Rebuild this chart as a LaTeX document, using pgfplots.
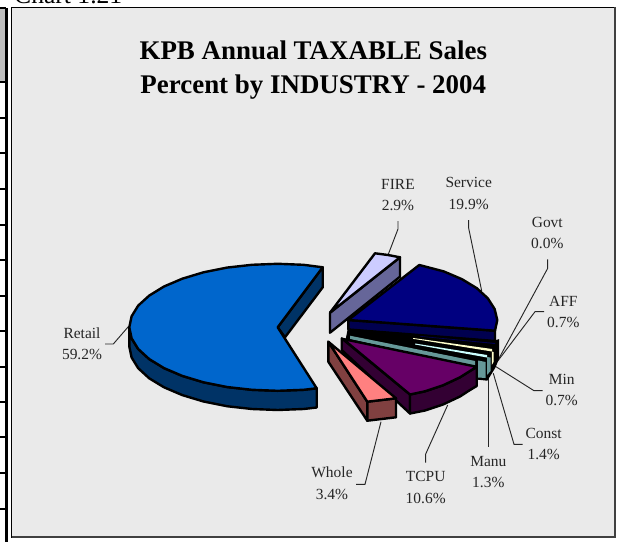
\documentclass[border=0pt]{standalone}
\usepackage{fontspec}
\setmainfont{Liberation Serif}
\usepackage{pgfplots}
\pgfplotsset{compat=1.18}

\definecolor{panel}{HTML}{EAEAEA}
\definecolor{retailT}{HTML}{0066CC}
\definecolor{retailS}{HTML}{003366}
\definecolor{fireT}{HTML}{CCCCFF}
\definecolor{fireS}{HTML}{666699}
\definecolor{servT}{HTML}{000080}
\definecolor{servS}{HTML}{000050}
\definecolor{teal}{HTML}{669999}
\definecolor{paley}{HTML}{FFFFCC}
\definecolor{palec}{HTML}{CCFFFF}
\definecolor{tcpuT}{HTML}{660066}
\definecolor{tcpuS}{HTML}{330033}
\definecolor{wholeT}{HTML}{FF8080}
\definecolor{wholeS}{HTML}{804040}

\pgfplotsset{
  face/.style={fill=#1,draw=black,line width=1.8pt,line join=round,line cap=round},
  lead/.style={draw=black!85,line width=0.7pt},
}
% label pair: x, baseline y, name, percent
\newcommand{\lab}[4]{%
  \node[anchor=base,font=\fontsize{11.6}{12}\selectfont,text=black!85] at (axis cs:#1,#2) {#3};
  \node[anchor=base,font=\fontsize{11.6}{12}\selectfont,text=black!85] at (axis cs:#1,#2+21.3) {#4};
}

\begin{document}
\begin{tikzpicture}
\useasboundingbox (0,0) rectangle (463.5pt,406.5pt);
\clip (0,0) rectangle (463.5pt,406.5pt);
\begin{axis}[
    at={(0,0)},anchor=south west,
    scale only axis,width=463.5pt,height=406.5pt,
    xmin=0,xmax=618,ymin=0,ymax=542,y dir=reverse,
    hide axis,clip=false,
  ]
  % table fragment on the left
  \addplot[fill=black!25,draw=none] coordinates {(0,9) (5.5,9) (5.5,81) (0,81) (0,9)};
  \addplot[draw=black,line width=1.9pt] coordinates {(6.7,8) (6.7,542)};
  \addplot[draw=black,line width=1.5pt] coordinates {(0,8.5) (6,8.5)};
  \addplot[draw=black,line width=1.5pt] coordinates {(0,82) (6,82)};
  \addplot[draw=black,line width=1.5pt] coordinates {(0,118) (6,118)};
  \addplot[draw=black,line width=1.5pt] coordinates {(0,153) (6,153)};
  \addplot[draw=black,line width=1.5pt] coordinates {(0,189) (6,189)};
  \addplot[draw=black,line width=1.5pt] coordinates {(0,225) (6,225)};
  \addplot[draw=black,line width=1.5pt] coordinates {(0,260) (6,260)};
  \addplot[draw=black,line width=1.5pt] coordinates {(0,296) (6,296)};
  \addplot[draw=black,line width=1.5pt] coordinates {(0,331) (6,331)};
  \addplot[draw=black,line width=1.5pt] coordinates {(0,367) (6,367)};
  \addplot[draw=black,line width=1.5pt] coordinates {(0,402) (6,402)};
  \addplot[draw=black,line width=1.5pt] coordinates {(0,437) (6,437)};
  \addplot[draw=black,line width=1.5pt] coordinates {(0,473) (6,473)};
  \addplot[draw=black,line width=1.5pt] coordinates {(0,509) (6,509)};

  % chart panel
  \addplot[fill=panel,draw=black,line width=0.75pt] coordinates {(11.5,7.5) (615,7.5) (615,537) (11.5,537) (11.5,7.5)};
  \addplot[draw=black!75,line width=1.5pt] coordinates {(615,7.5) (615,537) (11.5,537)};

  % leader lines
  \addplot[lead] coordinates {(105,344) (113.3,344) (128.3,326.7)};
  \addplot[lead] coordinates {(398,221) (398,229) (388.3,254.3)};
  \addplot[lead] coordinates {(468.7,220) (468.7,228.3) (481.7,291)};
  \addplot[lead] coordinates {(547.7,259.3) (547.7,268.3) (497,362)};
  \addplot[lead] coordinates {(544,311.7) (535,311.7) (497,362)};
  \addplot[lead] coordinates {(542.7,390.7) (534,390.7) (496,366.7)};
  \addplot[lead] coordinates {(522.7,444.3) (514,444.3) (493.3,373.3)};
  \addplot[lead] coordinates {(488.3,446.7) (488.3,378)};
  \addplot[lead] coordinates {(425.7,462.7) (425.7,454) (447.7,405)};
  \addplot[lead] coordinates {(356,484.3) (365,484.3) (381,421.7)};

  % Retail
  \addplot[face=retailS] coordinates {(277.7,327.3) (322.7,267.3) (322.7,287.3) (285,337.3) (277.7,327.3)};
  \addplot[face=retailS] coordinates {(129.3,327.3) (131.6,338.3) (138.2,349) (149.2,359.05) (164,368.1) (182.3,375.9) (203.5,382.3) (226.9,387) (251.9,389.8) (277.7,390.8) (303.5,389.8) (316.7,388.3) (316.7,407.5) (303.5,409) (277.7,410) (251.9,409) (226.9,406.2) (203.5,401.5) (182.3,395.1) (164,387.3) (149.2,378.3) (138.2,368.2) (131.6,357.5) (129.3,346.5) (129.3,327.3)};
  \addplot[face=retailT] coordinates {(277.7,327.3) (322.7,267.3) (303.5,264.8) (277.7,263.8) (251.9,264.8) (226.9,267.6) (203.5,272.3) (182.3,278.7) (164,286.5) (149.2,295.6) (138.2,305.6) (131.6,316.3) (129.3,327.3) (131.6,338.3) (138.2,349) (149.2,359.05) (164,368.1) (182.3,375.9) (203.5,382.3) (226.9,387) (251.9,389.8) (277.7,390.8) (303.5,389.8) (316.7,388.3) (277.7,327.3)};

  % FIRE
  \addplot[face=fireS] coordinates {(330,312.7) (400,257.3) (400,276.7) (330,332.7) (330,312.7)};
  \addplot[face=fireT] coordinates {(330,312.7) (375,253.3) (388,255) (400,257.3) (330,312.7)};

  % Service
  \addplot[face=servS] coordinates {(348.3,320) (495,330.7) (495,341) (348.3,329.5) (348.3,320)};
  \addplot[face=servT] coordinates {(348.3,320) (419.3,265) (443.7,271.4) (462,279.2) (476.8,288.2) (487.8,298.3) (494.6,309) (497.3,320) (495,330.7) (348.3,320)};

  % black mass of the thin slices
  \addplot[fill=black,draw=black,line width=1pt] coordinates {(348.3,329.5) (495,341) (498.5,340) (498.5,358) (495,367) (487,380) (477.7,379) (476,369) (346,341) (348.3,329.5)};
  \addplot[fill=servS,draw=none] coordinates {(420,336) (495,343) (495,344) (420,336.6) (420,336)};
  \addplot[fill=paley,draw=none] coordinates {(413,338) (492,349) (492,351.5) (413,338.8) (413,338)};
  \addplot[fill=palec,draw=none] coordinates {(415,343.5) (487,355) (487,357.5) (415,344.5) (415,343.5)};
  \addplot[fill=teal,draw=none] coordinates {(350,335.7) (475,361) (475,367) (350,339) (350,335.7)};
  \addplot[fill=teal,draw=none] coordinates {(478,360.5) (485.7,362) (485.7,378) (478,377.5) (478,360.5)};
  \addplot[fill=teal,draw=none] coordinates {(487,357) (490.5,357.5) (490.5,371) (487,375) (487,357)};
  \addplot[fill=paley,draw=none] coordinates {(491.8,351.5) (493.5,352) (493.5,362) (491.8,365) (491.8,351.5)};

  % TCPU
  \addplot[face=tcpuS] coordinates {(341.7,338.3) (410,394.5) (410,413.5) (341.7,350) (341.7,338.3)};
  \addplot[face=tcpuS] coordinates {(410,394.5) (425,391.3) (443,385.3) (460,377.3) (470,371) (476.7,366.8) (476.7,386) (470,390) (460,396.5) (443,404.5) (425,410.5) (410,413.5) (410,394.5)};
  \addplot[face=tcpuT] coordinates {(343,339) (476.7,366.8) (470,371) (460,377.3) (443,385.3) (425,391.3) (410,394.5) (343,339)};

  % Whole
  \addplot[face=wholeS] coordinates {(328.3,341.7) (367.3,401.7) (367.3,420.7) (328.3,361.7) (328.3,341.7)};
  \addplot[face=wholeS] coordinates {(367.3,401.7) (396,398.3) (396,417.3) (367.3,420.7) (367.3,401.7)};
  \addplot[face=wholeT] coordinates {(328.3,341.7) (396,398.3) (367.3,401.7) (328.3,341.7)};

  % text
  \node[anchor=base west,font=\fontsize{19.2}{20}\selectfont] at (axis cs:9.5,3.5) {Chart 1.21};
  \node[anchor=base,font=\bfseries\fontsize{20.2}{21}\selectfont] at (axis cs:313.3,60) {KPB Annual TAXABLE Sales};
  \node[anchor=base,font=\bfseries\fontsize{20.2}{21}\selectfont] at (axis cs:313.3,93.3) {Percent by INDUSTRY - 2004};

  \lab{82}{338.3}{Retail}{59.2\%}
  \lab{398}{189}{FIRE}{2.9\%}
  \lab{468.7}{187.7}{Service}{19.9\%}
  \lab{547.3}{227}{Govt}{0.0\%}
  \lab{563.3}{306}{AFF}{0.7\%}
  \lab{561.7}{384}{Min}{0.7\%}
  \lab{543.7}{438.3}{Const}{1.4\%}
  \lab{488.3}{466}{Manu}{1.3\%}
  \lab{425.7}{481.7}{TCPU}{10.6\%}
  \lab{332}{477.7}{Whole}{3.4\%}
\end{axis}
\end{tikzpicture}
\end{document}
